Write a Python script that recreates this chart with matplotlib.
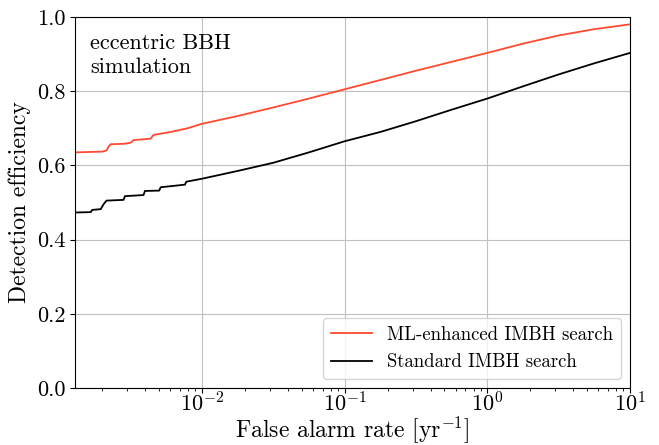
import numpy as np
import matplotlib
matplotlib.use('Agg')
import matplotlib.pyplot as plt

plt.rcParams['font.family'] = 'serif'
plt.rcParams['font.serif'] = ['cmr10']
plt.rcParams['mathtext.fontset'] = 'cm'
plt.rcParams['axes.formatter.use_mathtext'] = True

# ML-enhanced search
far_ml = [1.29e-3, 2.00e-3, 2.14e-3, 2.21e-3, 2.29e-3, 2.82e-3, 3.16e-3, 3.31e-3,
          4.37e-3, 4.57e-3, 6.03e-3, 7.94e-3, 1.0e-2, 1.78e-2, 3.16e-2, 5.62e-2,
          0.1, 0.178, 0.316, 0.562, 1.0, 1.78, 3.16, 5.62, 10.0]
eff_ml = [0.635, 0.637, 0.640, 0.650, 0.657, 0.658, 0.661, 0.668,
          0.672, 0.682, 0.690, 0.700, 0.712, 0.733, 0.756, 0.780,
          0.805, 0.830, 0.855, 0.879, 0.903, 0.928, 0.950, 0.967, 0.980]

# standard search
far_std = [1.29e-3, 1.66e-3, 1.70e-3, 1.95e-3, 2.04e-3, 2.14e-3, 2.82e-3, 2.88e-3,
           3.89e-3, 3.98e-3, 5.01e-3, 5.13e-3, 7.59e-3, 7.76e-3, 1.0e-2, 1.78e-2,
           3.16e-2, 5.62e-2, 0.1, 0.178, 0.316, 0.562, 1.0, 1.78, 3.16, 5.62, 10.0]
eff_std = [0.473, 0.474, 0.480, 0.482, 0.495, 0.505, 0.507, 0.517,
           0.520, 0.531, 0.532, 0.541, 0.548, 0.556, 0.564, 0.585,
           0.607, 0.635, 0.665, 0.690, 0.719, 0.750, 0.780, 0.813, 0.845, 0.875, 0.903]

fig = plt.figure(figsize=(6.59, 4.45), dpi=100)
ax = fig.add_axes([0.114, 0.128, 0.842, 0.834])

ax.plot(far_ml, eff_ml, color='#ff4a32', lw=1.3, label='ML-enhanced IMBH search')
ax.plot(far_std, eff_std, color='black', lw=1.3, label='Standard IMBH search')

ax.set_xscale('log')
ax.set_xlim(1.29e-3, 10)
ax.set_ylim(0, 1)
ax.set_yticks([0.0, 0.2, 0.4, 0.6, 0.8, 1.0])
ax.set_yticklabels(['0.0', '0.2', '0.4', '0.6', '0.8', '1.0'])
ax.tick_params(labelsize=16)
ax.tick_params(axis='x', which='major', pad=-1)
ax.grid(True, which='major', color='#c0c0c0', lw=0.8)

ax.set_xlabel(r'False alarm rate [yr$^{-1}$]', fontsize=17, labelpad=-1)
ax.set_ylabel('Detection efficiency', fontsize=17)

ax.text(0.027, 0.955, 'eccentric BBH\nsimulation', transform=ax.transAxes,
        fontsize=16, va='top', ha='left', linespacing=1.3)

ax.legend(loc='lower right', fontsize=13.5, handlelength=2.2)

plt.savefig('out.png', dpi=100)
